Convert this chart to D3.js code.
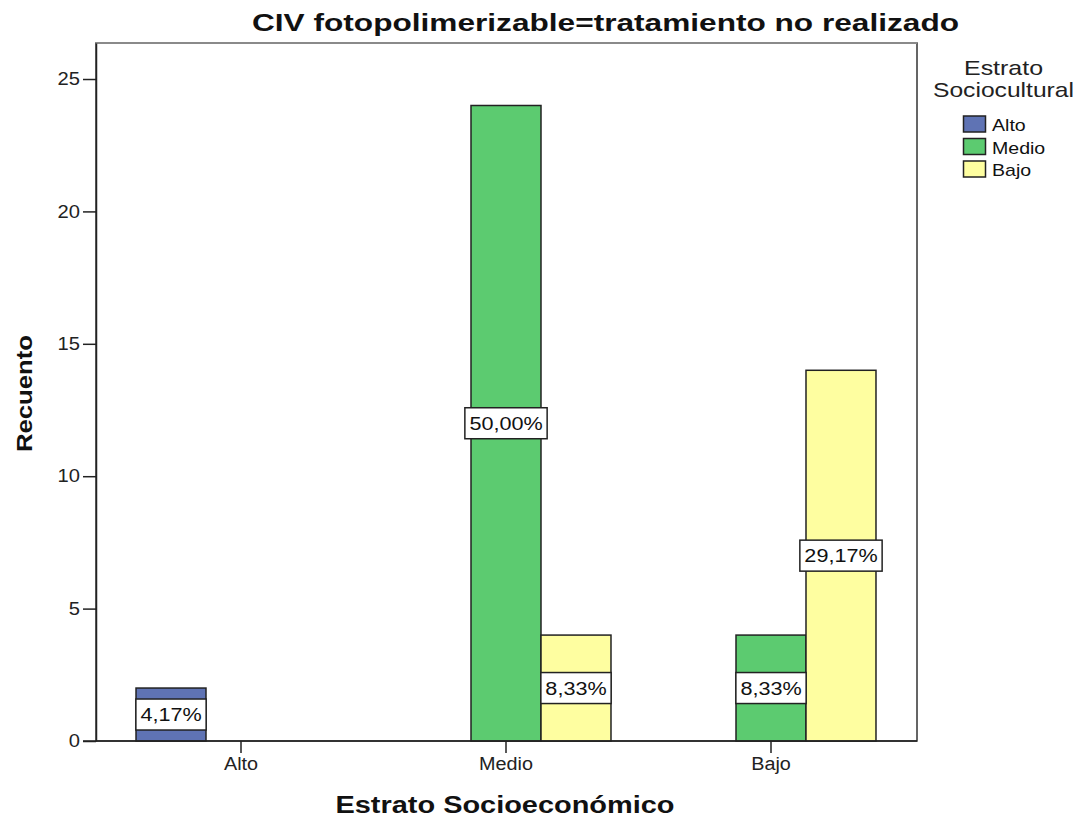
<!DOCTYPE html>
<html><head><meta charset="utf-8">
<script src="https://cdn.jsdelivr.net/npm/d3@7"></script>
<style>body{margin:0;background:#fff;}svg{display:block;font-family:"Liberation Sans",Arial,sans-serif;}</style>
</head><body>
<svg id="c" width="1091" height="819"></svg>
<script>
const categories = ["Alto", "Medio", "Bajo"];
const seriesNames = ["Alto", "Medio", "Bajo"];
const countsAlto = [2, 0, 0];
const countsMedio = [0, 24, 4];
const countsBajo = [0, 4, 14];
const percentLabelsAlto = ["4,17%", "", ""];
const percentLabelsMedio = ["", "50,00%", "8,33%"];
const percentLabelsBajo = ["", "8,33%", "29,17%"];
const yTicks = [0, 5, 10, 15, 20, 25];
const colors = ["#5f73b4", "#5ccb70", "#fefea0"];

const FONT = "Liberation Sans, Arial, sans-serif";
function stretch(sel, f) {
  sel.each(function() {
    const w = this.getComputedTextLength();
    d3.select(this).attr("textLength", w * f).attr("lengthAdjust", "spacingAndGlyphs");
  });
}
function fitTo(sel, w) { sel.attr("textLength", w).attr("lengthAdjust", "spacingAndGlyphs"); }

const svg = d3.select("#c");
const L = 96, R = 917, T = 43, B = 741;
const x0 = d3.scaleBand().domain(categories).range([108.5, 903.5]).padding(0);
const x1 = d3.scaleBand().domain(seriesNames).range([0, x0.bandwidth()]).paddingInner(0).paddingOuter(0.393);
const y = d3.scaleLinear().domain([0, 26.36]).range([B, T]);

// Frame
svg.append("rect").attr("x", L).attr("y", T).attr("width", R - L).attr("height", B - T)
  .attr("fill", "none").attr("stroke", "#333").attr("stroke-width", 1.5);
svg.append("line").attr("x1", L).attr("x2", R).attr("y1", T).attr("y2", T).attr("stroke", "#8a8a8a").attr("stroke-width", 2);

const series = [countsAlto, countsMedio, countsBajo];
const labels = [percentLabelsAlto, percentLabelsMedio, percentLabelsBajo];
const data = [];
series.forEach((arr, si) => arr.forEach((v, ci) => data.push({s: seriesNames[si], si, c: categories[ci], v, lab: labels[si][ci]})));

const bars = data.filter(d => d.v > 0);
svg.append("g").selectAll("rect").data(bars).join("rect")
  .attr("x", d => x0(d.c) + x1(d.s))
  .attr("y", d => y(d.v))
  .attr("width", x1.bandwidth())
  .attr("height", d => y(0) - y(d.v))
  .attr("fill", d => colors[d.si])
  .attr("stroke", "#222").attr("stroke-width", 1.5);

// Axes
const yAxis = d3.axisLeft(y).tickValues(yTicks).tickSize(13).tickSizeOuter(0).tickPadding(3).tickFormat(d3.format("d"));
const gy = svg.append("g").attr("transform", `translate(${L},0)`).call(yAxis);
gy.select(".domain").attr("stroke", "#222").attr("stroke-width", 1.5);
gy.selectAll(".tick line").attr("stroke", "#222").attr("stroke-width", 1.5);
gy.selectAll(".tick text").attr("font-size", 18).attr("fill", "#222").attr("font-family", FONT).call(stretch, 1.12);

const xAxis = d3.axisBottom(x0).tickSize(12).tickPadding(4).tickSizeOuter(0);
const gx = svg.append("g").attr("transform", `translate(0,${B})`).call(xAxis);
gx.select(".domain").remove();
gx.selectAll(".tick line").attr("stroke", "#222").attr("stroke-width", 1.5);
gx.selectAll(".tick text").attr("font-size", 18).attr("fill", "#222").attr("font-family", FONT).call(stretch, 1.1);
svg.append("line").attr("x1", L - 13).attr("x2", R).attr("y1", B).attr("y2", B).attr("stroke", "#222").attr("stroke-width", 1.5);

// Percent labels
const labs = bars.filter(d => d.lab);
const lg = svg.append("g").selectAll("g").data(labs).join("g")
  .attr("transform", d => `translate(${x0(d.c) + x1(d.s) + x1.bandwidth() / 2},${y(d.v / 2)})`);
lg.append("text").attr("text-anchor", "middle").attr("dy", "0.36em")
  .attr("font-size", 18).attr("fill", "#111").text(d => d.lab)
  .each(function(d) { d.w = this.getComputedTextLength() * 1.2; })
  .each(function(d) { d3.select(this).attr("textLength", d.w).attr("lengthAdjust", "spacingAndGlyphs"); });
lg.insert("rect", "text")
  .attr("x", d => -Math.max(d.w / 2 + 4.5, x1.bandwidth() / 2))
  .attr("width", d => Math.max(d.w + 9, x1.bandwidth()))
  .attr("y", -15.5).attr("height", 31)
  .attr("fill", "#fff").attr("stroke", "#222").attr("stroke-width", 1.5);

// Title
svg.append("text").attr("x", 605.5).attr("y", 31).attr("text-anchor", "middle")
  .attr("font-size", 24.5).attr("font-weight", "bold").attr("fill", "#111")
  .text("CIV fotopolimerizable=tratamiento no realizado").call(fitTo, 707);

// Axis titles
svg.append("text").attr("x", 505).attr("y", 813).attr("text-anchor", "middle")
  .attr("font-size", 23).attr("font-weight", "bold").attr("fill", "#111").text("Estrato Socioeconómico").call(fitTo, 339);
svg.append("text").attr("transform", "translate(32,393.5) rotate(-90)").attr("text-anchor", "middle")
  .attr("font-size", 22).attr("font-weight", "bold").attr("fill", "#111").text("Recuento").call(fitTo, 117);

// Legend
svg.append("text").attr("x", 1003.5).attr("y", 75).attr("text-anchor", "middle").attr("font-size", 21).attr("fill", "#222").text("Estrato").call(fitTo, 79);
svg.append("text").attr("x", 1003.5).attr("y", 97).attr("text-anchor", "middle").attr("font-size", 21).attr("fill", "#222").text("Sociocultural").call(fitTo, 141);
const leg = svg.append("g").selectAll("g").data(seriesNames).join("g")
  .attr("transform", (d, i) => `translate(963.5,${116 + i * 22.5})`);
leg.append("rect").attr("width", 22).attr("height", 16).attr("fill", (d, i) => colors[i]).attr("stroke", "#222").attr("stroke-width", 1.5);
leg.append("text").attr("x", 28.5).attr("y", 15).attr("font-size", 17).attr("fill", "#111").text(d => d).call(stretch, 1.15);
</script>
</body></html>
